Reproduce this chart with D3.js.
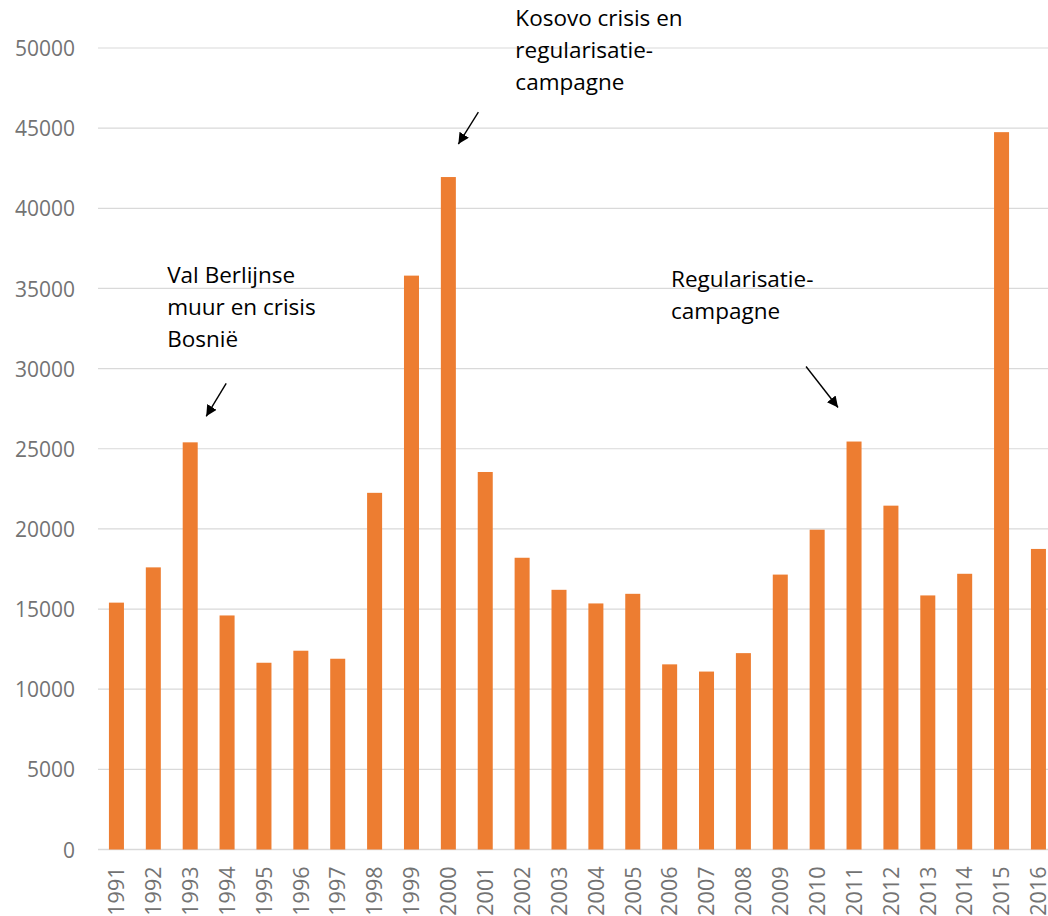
<!DOCTYPE html>
<html>
<head>
<meta charset="utf-8">
<script src="https://cdn.jsdelivr.net/npm/d3@7"></script>
<style>
  body { margin: 0; background: #fff; }
  svg { display: block; }
</style>
</head>
<body>
<div id="chart"></div>
<script>
// asylum requests per year
const years = ["1991","1992","1993","1994","1995","1996","1997","1998","1999","2000","2001","2002","2003",
  "2004","2005","2006","2007","2008","2009","2010","2011","2012","2013","2014","2015","2016"];
const requests = [15400, 17600, 25400, 14600, 11650, 12400, 11900, 22250, 35800, 41950, 23550, 18200, 16200,
  15350, 15950, 11550, 11100, 12250, 17150, 19950, 25450, 21450, 15850, 17200, 44750, 18750];
const yTicks = [0, 5000, 10000, 15000, 20000, 25000, 30000, 35000, 40000, 45000, 50000];

const noteYears = ["1993", "2000", "2011"];
const noteTexts = [
  ["Val Berlijnse", "muur en crisis", "Bosnië"],
  ["Kosovo crisis en", "regularisatie-", "campagne"],
  ["Regularisatie-", "campagne"]
];

const width = 1048, height = 916;
const margin = { top: 48, left: 98 };
const plotBottom = 849.5;

const svg = d3.select("#chart").append("svg")
  .attr("width", width)
  .attr("height", height);

const defs = svg.append("defs");
defs.append("marker")
  .attr("id", "arrow")
  .attr("viewBox", "0 0 10 10")
  .attr("refX", 10).attr("refY", 5)
  .attr("markerWidth", 11).attr("markerHeight", 11)
  .attr("markerUnits", "userSpaceOnUse")
  .attr("orient", "auto")
  .append("path")
  .attr("d", "M0,0 L10,5 L0,10 Z")
  .attr("fill", "#000");

const x = d3.scaleBand()
  .domain(years)
  .range([margin.left, margin.left + 26 * 36.88])
  .paddingInner(0.593)
  .paddingOuter(0.2965);

const y = d3.scaleLinear()
  .domain([0, 50000])
  .range([plotBottom, margin.top]);

// gridlines
svg.append("g")
  .selectAll("line")
  .data(yTicks)
  .join("line")
  .attr("x1", margin.left)
  .attr("x2", width)
  .attr("y1", d => y(d))
  .attr("y2", d => y(d))
  .attr("stroke", "#d9d9d9")
  .attr("stroke-width", d => d === 0 ? 1.5 : 1.2);

// y axis labels
const yAxis = svg.append("g")
  .attr("transform", `translate(${margin.left - 23},0)`)
  .call(d3.axisLeft(y).tickValues(yTicks).tickSize(0).tickPadding(0).tickFormat(d3.format("d")));
yAxis.select(".domain").remove();
yAxis.selectAll("text")
  .attr("font-family", "'Open Sans', sans-serif")
  .attr("font-size", 21)
  .attr("fill", "#737373")
  .attr("dy", "0.36em");

// bars
svg.append("g")
  .selectAll("rect")
  .data(years)
  .join("rect")
  .attr("x", d => x(d))
  .attr("width", x.bandwidth())
  .attr("y", (d, i) => y(requests[i]))
  .attr("height", (d, i) => plotBottom - y(requests[i]))
  .attr("fill", "#ed7d31");

// x axis labels
const xAxis = svg.append("g")
  .attr("transform", `translate(0,${plotBottom})`)
  .call(d3.axisBottom(x).tickSize(0).tickPadding(0));
xAxis.select(".domain").remove();
xAxis.selectAll("text")
  .attr("font-family", "'Open Sans', sans-serif")
  .attr("font-size", 21.5)
  .attr("fill", "#737373")
  .attr("text-anchor", "end")
  .attr("transform", "rotate(-90)")
  .attr("x", -17)
  .attr("y", 0)
  .attr("dy", "0.36em");

// annotations, offsets relative to the bar top
const noteLayout = [
  { tx: -23, ty: -159, x1: 36, y1: -59, x2: 16, y2: -26 },
  { tx: 67, ty: -151, x1: 30, y1: -65, x2: 10, y2: -33 },
  { tx: -183, ty: -155, x1: -48, y1: -75, x2: -16, y2: -34 }
];

noteYears.forEach((yr, k) => {
  const cx = x(yr) + x.bandwidth() / 2;
  const top = y(requests[years.indexOf(yr)]);
  const L = noteLayout[k];
  const t = svg.append("text")
    .attr("font-family", "'Open Sans', sans-serif")
    .attr("font-size", 22.5)
    .attr("fill", "#000");
  noteTexts[k].forEach((line, j) => {
    t.append("tspan")
      .attr("x", cx + L.tx)
      .attr("y", top + L.ty + j * 32)
      .text(line);
  });
  svg.append("line")
    .attr("x1", cx + L.x1).attr("y1", top + L.y1)
    .attr("x2", cx + L.x2).attr("y2", top + L.y2)
    .attr("stroke", "#000")
    .attr("stroke-width", 1.4)
    .attr("marker-end", "url(#arrow)");
});
</script>
</body>
</html>
